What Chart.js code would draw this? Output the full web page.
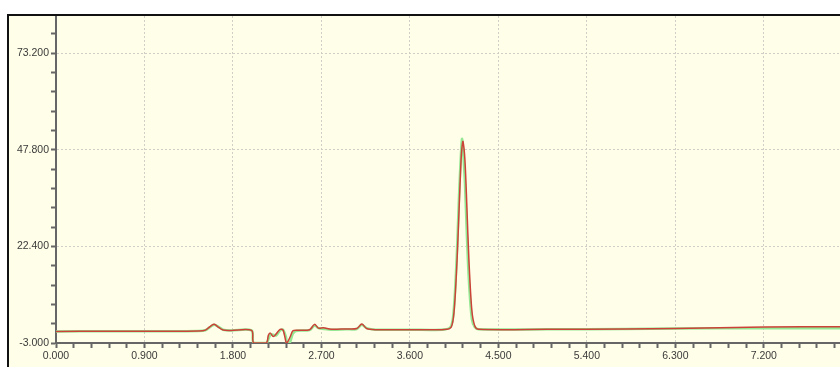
<!DOCTYPE html>
<html>
<head>
<meta charset="utf-8">
<script src="https://cdn.jsdelivr.net/npm/chart.js@4/dist/chart.umd.min.js"></script>
<style>
  html, body { margin: 0; padding: 0; background: #fff; overflow: hidden; }
  #panel {
    position: absolute; left: 7px; top: 14px; width: 900px; height: 400px;
    border-left: 2px solid #111; border-top: 2px solid #111;
    background: #fffee8;
  }
  #chart { position: absolute; left: 0; top: 0; }
</style>
</head>
<body>
<div id="panel"><canvas id="chart" width="831" height="351"></canvas></div>
<script>
// retention time (min)
var tempo = [0.00, 0.50, 1.00, 1.45, 1.52, 1.58, 1.61, 1.65, 1.70, 1.78, 1.99, 2.01, 2.14, 2.16, 2.18, 2.21, 2.24, 2.28, 2.31, 2.34, 2.35, 2.38, 2.41, 2.45, 2.58, 2.63, 2.67, 2.72, 2.80, 2.95, 3.06, 3.11, 3.16, 3.25, 3.60, 3.95, 4.02, 4.05, 4.08, 4.10, 4.12, 4.13, 4.14, 4.16, 4.18, 4.20, 4.23, 4.26, 4.30, 5.00, 5.80, 6.30, 7.20, 7.98];
var sinalVermelho = [0.05, 0.08, 0.10, 0.15, 0.40, 1.60, 1.95, 1.20, 0.40, 0.30, 0.30, -3.0, -3.0, -1.0, -0.4, -1.3, -0.6, 0.6, 0.4, -2.8, -3.0, -1.5, 0.2, 0.35, 0.5, 1.9, 0.9, 1.0, 0.6, 0.7, 0.8, 2.0, 0.8, 0.5, 0.5, 0.55, 1.2, 5.5, 19.0, 32.0, 45.0, 48.5, 50.0, 45.0, 32.5, 19.0, 5.6, 1.5, 0.6, 0.6, 0.7, 0.8, 1.2, 1.3];
var sinalVerde = [0.05, 0.08, 0.10, 0.15, 0.35, 1.40, 1.80, 1.30, 0.50, 0.30, 0.30, -3.0, -3.0, -2.0, -0.9, -0.8, -1.0, 0.3, 0.5, -1.5, -3.0, -2.8, -0.5, 0.2, 0.4, 1.6, 0.9, 0.7, 0.5, 0.6, 0.7, 1.8, 0.9, 0.5, 0.5, 0.55, 1.5, 7.0, 22.0, 36.0, 47.0, 50.7, 48.0, 39.0, 25.0, 13.5, 3.3, 1.2, 0.6, 0.6, 0.7, 0.8, 0.9, 0.9];

var xTicks = [0, 0.9, 1.8, 2.7, 3.6, 4.5, 5.4, 6.3, 7.2];
var yTicks = [-3, 22.4, 47.8, 73.2];
var xMin = 0, xMax = 7.975, yMin = -3, yMax = 83;

function pontos(vals){
  var p = [];
  for (var i = 0; i < tempo.length; i++) p.push({x: tempo[i], y: vals[i]});
  return p;
}

// major ticks get labels + grid lines, 4 minor ticks in between
function montaTicks(maj, lo, hi){
  var step = (maj[1] - maj[0]) / 5, out = [];
  for (var k = -20; k < 100; k++) {
    var v = maj[0] + k * step;
    if (v < lo - 1e-9 || v > hi + 1e-9) continue;
    out.push({value: +v.toFixed(4), major: k % 5 === 0});
  }
  return out;
}

function isMajor(ctx){ return ctx.tick && ctx.tick.major; }

var eixo = function(ticksMaj, lo, hi, fit){
  return {
    type: 'linear', min: lo, max: hi,
    afterBuildTicks: function(s){ s.ticks = montaTicks(ticksMaj, lo, hi); },
    afterFit: function(s){
      fit(s);
      s.paddingTop = 0; s.paddingBottom = 0; s.paddingLeft = 0; s.paddingRight = 0;
    },
    border: { color: '#666', width: 2, dash: [2, 2] },
    grid: {
      color: function(c){ return isMajor(c) ? '#cfcfc6' : 'rgba(0,0,0,0)'; },
      lineWidth: 1,
      tickColor: '#666', tickLength: 5, tickWidth: 2
    },
    ticks: {
      autoSkip: false, maxRotation: 0, padding: 2,
      color: '#3a3a3a', font: { family: 'Liberation Sans', size: 10.5 },
      callback: function(v, i, t){ return t[i].major ? v.toFixed(3) : ''; }
    }
  };
};

var ctx = document.getElementById('chart');
new Chart(ctx, {
  type: 'line',
  data: {
    datasets: [
      { data: pontos(sinalVermelho), borderColor: '#cc4238', borderWidth: 1.5, pointRadius: 0, tension: 0.3, order: 0 },
      { data: pontos(sinalVerde), borderColor: '#94e894', borderWidth: 2.5, pointRadius: 0, tension: 0.3, order: 1 }
    ]
  },
  options: {
    responsive: false,
    animation: false,
    layout: { padding: 0 },
    plugins: { legend: { display: false }, tooltip: { enabled: false } },
    scales: {
      x: eixo(xTicks, xMin, xMax, function(s){ s.height = 24; }),
      y: eixo(yTicks, yMin, yMax, function(s){ s.width = 47; })
    }
  }
});
</script>
</body>
</html>
